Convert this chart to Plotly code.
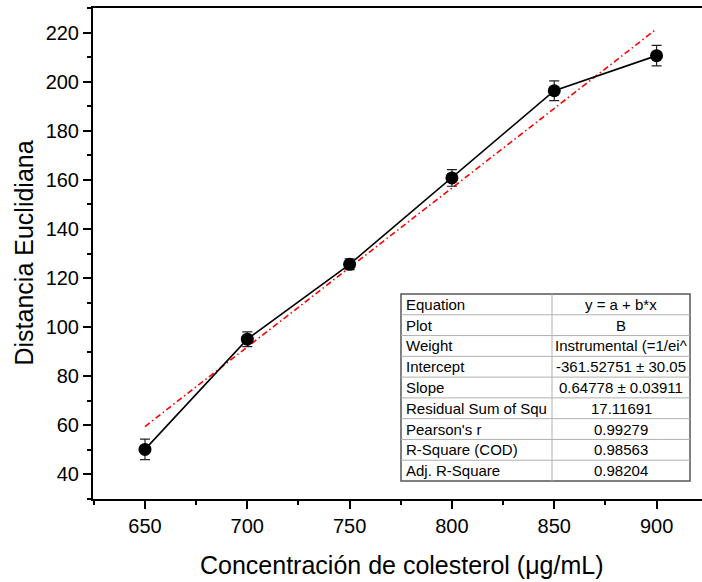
import plotly.graph_objects as go

# ---- data ----
conc = [650, 700, 750, 800, 850, 900]
dist = [50.2, 95.1, 125.6, 160.8, 196.3, 210.6]
err = [4.2, 3.0, 2.2, 3.4, 4.0, 4.2]

intercept = -361.52751
slope = 0.64778
fit_x = [650, 900]
fit_y = [intercept + slope * v for v in fit_x]

table_labels = ["Equation", "Plot", "Weight", "Intercept", "Slope",
                "Residual Sum of Squ", "Pearson's r", "R-Square (COD)", "Adj. R-Square"]
table_values = ["y = a + b*x", "B", "Instrumental (=1/ei^", "-361.52751 ± 30.05",
                "0.64778 ± 0.03911", "17.11691", "0.99279", "0.98563", "0.98204"]

FONT = "Liberation Sans, Arial, sans-serif"
W, H = 702, 582
L, R, T, B = 93, 702, 8, 499   # plot area in pixels


def px(xp):
    return (xp - L) / (R - L)


def py(yp):
    return (B - yp) / (B - T)


fig = go.Figure()

fig.add_trace(go.Scatter(
    x=fit_x, y=fit_y, mode="lines",
    line=dict(color="#ff0000", width=1.6, dash="6px,3px,1.5px,3px"),
    showlegend=False, hoverinfo="skip"))

fig.add_trace(go.Scatter(
    x=conc, y=dist, mode="lines+markers",
    line=dict(color="black", width=1.6),
    marker=dict(color="black", size=13, symbol="circle"),
    error_y=dict(type="data", array=err, visible=True, color="#222222",
                 thickness=1.2, width=5),
    showlegend=False))

shapes = []
annotations = []

# table geometry (pixels)
tx0, tx1, tsplit = 401, 690, 552
ty0, ty1 = 294, 481
n = len(table_labels)
rh = (ty1 - ty0) / n

shapes.append(dict(type="rect", xref="paper", yref="paper",
                   x0=px(tx0), x1=px(tx1), y0=py(ty1), y1=py(ty0),
                   fillcolor="white", line=dict(color="#555555", width=1.5),
                   layer="above"))
for i in range(1, n):
    yy = ty0 + rh * i
    shapes.append(dict(type="line", xref="paper", yref="paper",
                       x0=px(tx0), x1=px(tx1), y0=py(yy), y1=py(yy),
                       line=dict(color="#b0b0b0", width=1), layer="above"))
shapes.append(dict(type="line", xref="paper", yref="paper",
                   x0=px(tsplit), x1=px(tsplit), y0=py(ty1), y1=py(ty0),
                   line=dict(color="#b0b0b0", width=1), layer="above"))

for i, (lab, val) in enumerate(zip(table_labels, table_values)):
    yc = ty0 + rh * (i + 0.5)
    annotations.append(dict(xref="paper", yref="paper", x=px(tx0 + 3), y=py(yc),
                            xanchor="left", yanchor="middle", text=lab,
                            showarrow=False, font=dict(family=FONT, size=15, color="black")))
    annotations.append(dict(xref="paper", yref="paper", x=px((tsplit + tx1) / 2), y=py(yc),
                            xanchor="center", yanchor="middle", text=val,
                            showarrow=False, font=dict(family=FONT, size=15, color="black")))

# axis titles as annotations for precise placement
annotations.append(dict(xref="paper", yref="paper", x=px(401), y=py(565),
                        xanchor="center", yanchor="middle",
                        text="Concentración de colesterol (μg/mL)", showarrow=False,
                        font=dict(family=FONT, size=25, color="black")))
annotations.append(dict(xref="paper", yref="paper", x=px(23), y=py(253.5),
                        xanchor="center", yanchor="middle", textangle=-90,
                        text="Distancia Euclidiana", showarrow=False,
                        font=dict(family=FONT, size=25, color="black")))

fig.update_layout(
    width=W, height=H,
    margin=dict(l=L, r=W - R, t=T, b=H - B),
    paper_bgcolor="white", plot_bgcolor="white",
    font=dict(family=FONT, color="black"),
    shapes=shapes, annotations=annotations,
    xaxis=dict(range=[624.6, 922.2], tickmode="linear", tick0=650, dtick=50,
               showgrid=False, zeroline=False, showline=True, linecolor="black",
               linewidth=2, mirror=True, ticks="outside", ticklen=8, tickwidth=2,
               tickcolor="black", tickfont=dict(family=FONT, size=20, color="black"),
               minor=dict(tick0=625, dtick=25, ticks="outside", ticklen=4,
                          tickwidth=2, tickcolor="black", showgrid=False)),
    yaxis=dict(range=[30, 230], tickmode="linear", tick0=40, dtick=20,
               showgrid=False, zeroline=False, showline=True, linecolor="black",
               linewidth=2, mirror=False, ticks="outside", ticklen=8, tickwidth=2,
               tickcolor="black", tickfont=dict(family=FONT, size=20, color="black"),
               minor=dict(tick0=30, dtick=10, ticks="outside", ticklen=4,
                          tickwidth=2, tickcolor="black", showgrid=False)),
)

fig.write_html("out.html")
